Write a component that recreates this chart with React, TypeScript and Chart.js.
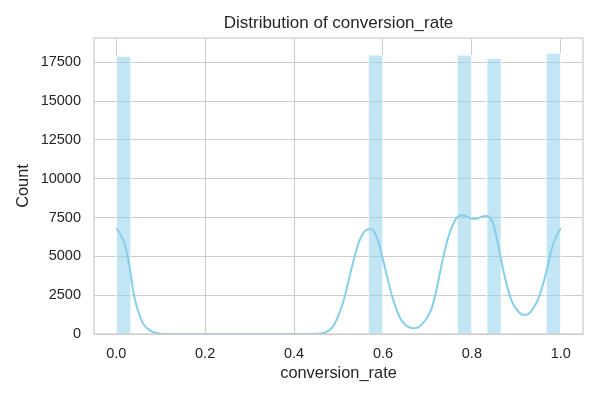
import { useEffect, useRef } from "react";
import Chart from "chart.js/auto";

// histogram: 30 equal bins over [0, 1]
const binCount = 30;
const binCounts = [
  17900, 0, 0, 0, 0, 0, 0, 0, 0, 0,
  0, 0, 0, 0, 0, 0, 0, 17990, 0, 0,
  0, 0, 0, 17990, 0, 17780, 0, 0, 0, 18100,
];

// kde curve
const kdeX = [
  0.0, 0.01, 0.02, 0.03, 0.04, 0.05, 0.06, 0.07, 0.08, 0.09, 0.1, 0.12, 0.2, 0.3, 0.4, 0.44,
  0.46, 0.47, 0.48, 0.49, 0.5, 0.51, 0.52, 0.53, 0.54, 0.55, 0.56, 0.57, 0.58, 0.59,
  0.6, 0.61, 0.62, 0.63, 0.64, 0.65, 0.66, 0.67, 0.68, 0.69, 0.7, 0.71, 0.72, 0.73,
  0.74, 0.75, 0.76, 0.77, 0.78, 0.79, 0.8, 0.81, 0.82, 0.83, 0.84, 0.85, 0.86, 0.87,
  0.88, 0.89, 0.9, 0.91, 0.92, 0.93, 0.94, 0.95, 0.96, 0.97, 0.98, 0.99, 1.0,
];
const kdeY = [
  6810, 6400, 5700, 4300, 2500, 1400, 700, 350, 160, 60, 20, 0, 0, 0, 0, 0,
  30, 100, 250, 600, 1200, 2000, 3100, 4300, 5400, 6200, 6650, 6770, 6600, 5900,
  4800, 3600, 2500, 1600, 950, 600, 420, 370, 450, 700, 1100, 1700, 2800, 4200,
  5500, 6500, 7200, 7600, 7650, 7550, 7430, 7430, 7530, 7600, 7520, 6900, 5600, 4200,
  3000, 2100, 1600, 1300, 1230, 1350, 1750, 2300, 3200, 4300, 5500, 6300, 6810,
];

const xTicks = [0, 0.2, 0.4, 0.6, 0.8, 1.0];
const yTicks = [0, 2500, 5000, 7500, 10000, 12500, 15000, 17500];

const FONT = "'Liberation Sans', Arial, sans-serif";
const TEXT = "#262626";
const GRID = "#cccccc";

const frame = {
  id: "frame",
  afterDatasetsDraw(chart: Chart) {
    const { ctx, chartArea } = chart;
    ctx.save();
    ctx.strokeStyle = GRID;
    ctx.lineWidth = 1.25;
    ctx.strokeRect(chartArea.left, chartArea.top, chartArea.width, chartArea.height);
    ctx.restore();
  },
};

const HistogramChart = () => {
  const chartRef = useRef<HTMLCanvasElement>(null);
  const chartInstance = useRef<Chart | null>(null);

  useEffect(() => {
    if (!chartRef.current) return;
    document.body.style.margin = "0";

    if (chartInstance.current) {
      chartInstance.current.destroy();
    }

    const ctx = chartRef.current.getContext("2d");
    if (!ctx) return;

    const bars = binCounts.map((count, i) => ({ x: (i + 0.5) / binCount, y: count }));
    const kde = kdeX.map((x, i) => ({ x, y: kdeY[i] }));

    chartInstance.current = new Chart(ctx, {
      type: "bar",
      data: {
        datasets: [
          {
            type: "line",
            label: "kde",
            data: kde,
            borderColor: "#87ceeb",
            borderWidth: 2,
            pointRadius: 0,
            cubicInterpolationMode: "monotone",
            fill: false,
            order: 0,
          },
          {
            type: "bar",
            label: "Count",
            data: bars,
            backgroundColor: "rgba(135, 206, 235, 0.5)",
            borderColor: "#ffffff",
            borderWidth: 1,
            barPercentage: 1,
            categoryPercentage: 1,
            order: 1,
          },
        ],
      },
      options: {
        responsive: false,
        animation: false,
        layout: { padding: { left: 0, right: 17, top: 0, bottom: 0 } },
        plugins: {
          legend: { display: false },
          tooltip: { enabled: false },
          title: {
            display: true,
            text: "Distribution of conversion_rate",
            color: TEXT,
            fullSize: false,
            font: { family: FONT, size: 17, weight: "normal" },
            padding: { top: 13, bottom: 4.6 },
          },
        },
        scales: {
          x: {
            type: "linear",
            min: -0.05,
            max: 1.05,
            offset: false,
            afterBuildTicks: (scale) => {
              scale.ticks = xTicks.map((value) => ({ value }));
            },
            afterFit: (scale) => {
              scale.height = 66;
            },
            grid: { color: GRID, lineWidth: 1, drawTicks: false, offset: false },
            border: { display: false },
            ticks: {
              color: TEXT,
              padding: 11,
              maxRotation: 0,
              font: { family: FONT, size: 14.5 },
              callback: (value) => Number(value).toFixed(1),
            },
            title: {
              display: true,
              text: "conversion_rate",
              color: TEXT,
              font: { family: FONT, size: 16.4 },
              padding: { top: 0, bottom: 17 },
            },
          },
          y: {
            type: "linear",
            min: 0,
            max: 19070,
            afterBuildTicks: (scale) => {
              scale.ticks = yTicks.map((value) => ({ value }));
            },
            afterFit: (scale) => {
              scale.width = 94;
            },
            grid: { color: GRID, lineWidth: 1, drawTicks: false },
            border: { display: false },
            ticks: {
              color: TEXT,
              padding: 13,
              font: { family: FONT, size: 14.5 },
              callback: (value) => String(value),
            },
            title: {
              display: true,
              text: "Count",
              color: TEXT,
              font: { family: FONT, size: 16.4 },
              padding: { top: 14, bottom: 0 },
            },
          },
        },
      },
      plugins: [frame],
    });

    return () => {
      if (chartInstance.current) {
        chartInstance.current.destroy();
        chartInstance.current = null;
      }
    };
  }, []);

  return (
    <div style={{ width: 600, height: 400, background: "#ffffff" }}>
      <canvas ref={chartRef} width={600} height={400} />
    </div>
  );
};

export default function App() {
  return <HistogramChart />;
}
